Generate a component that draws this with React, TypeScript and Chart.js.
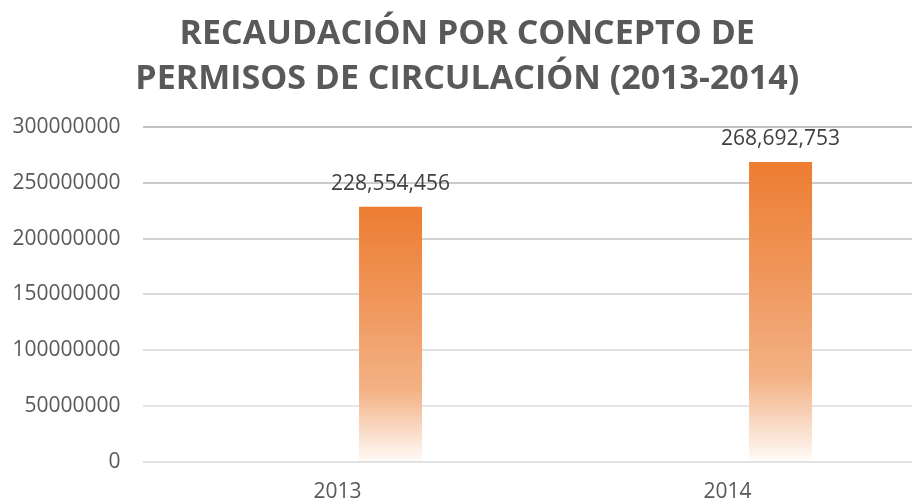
import React, { useEffect, useRef } from "react";
import { Chart, registerables } from "chart.js";

Chart.register(...registerables);

const TITLE_LINES = ["RECAUDACIÓN POR CONCEPTO DE", "PERMISOS DE CIRCULACIÓN (2013-2014)"];
const CATEGORIES = ["2013", "2014"];
const EMPTY_SERIES: (number | null)[] = [null, null];
const RECAUDACION = [228554456, 268692753];
const Y_MIN = 0;
const Y_MAX = 300000000;
const Y_STEP = 50000000;

const GRID_COLORS = ["#e2e2e2", "#e4e4e4", "#e0e0e0", "#dadada", "#d2d2d2", "#cacaca", "#c2c2c2"];

const fmt = (v: number) => v.toLocaleString("en-US");

const dataLabelPlugin = {
  id: "dataLabels",
  afterDatasetsDraw(chart: any) {
    const ctx = chart.ctx;
    const meta = chart.getDatasetMeta(1);
    ctx.save();
    ctx.font = '21px "Open Sans"';
    ctx.fillStyle = "#404040";
    ctx.textAlign = "center";
    ctx.textBaseline = "bottom";
    meta.data.forEach((bar: any, i: number) => {
      const v = chart.data.datasets[1].data[i];
      if (v == null) return;
      ctx.fillText(fmt(v as number), bar.x, bar.y - 12);
    });
    ctx.restore();
  },
};

export default function App() {
  const ref = useRef<HTMLCanvasElement | null>(null);

  useEffect(() => {
    document.body.style.margin = "0";
    const canvas = ref.current!;
    const chart = new Chart(canvas, {
      type: "bar",
      data: {
        labels: CATEGORIES,
        datasets: [
          { label: "", data: EMPTY_SERIES, backgroundColor: "transparent" },
          {
            label: "Recaudación",
            data: RECAUDACION,
            backgroundColor: (c: any) => {
              const chartRef = c.chart;
              const area = chartRef.chartArea;
              if (!area || c.dataIndex == null) return "#ED7D31";
              const ys = chartRef.scales.y;
              const v = RECAUDACION[c.dataIndex];
              const top = ys.getPixelForValue(v);
              const bottom = ys.getPixelForValue(0);
              const g = chartRef.ctx.createLinearGradient(0, top, 0, bottom);
              g.addColorStop(0, "rgb(237,125,49)");
              g.addColorStop(0.4, "rgb(240,152,94)");
              g.addColorStop(0.72, "rgb(243,178,133)");
              g.addColorStop(0.86, "rgb(248,214,191)");
              g.addColorStop(1, "rgb(255,251,248)");
              return g;
            },
            borderWidth: 0,
          },
        ],
      },
      options: {
        responsive: false,
        maintainAspectRatio: false,
        animation: false,
        layout: { padding: { left: 12, right: 21.5, top: 0, bottom: 1.5 } },
        datasets: {
          bar: { categoryPercentage: 0.544, barPercentage: 0.594 },
        },
        plugins: {
          legend: { display: false },
          tooltip: { enabled: false },
          title: {
            display: true,
            text: TITLE_LINES,
            color: "#595959",
            font: { family: '"Open Sans"', size: 34, weight: "bold", lineHeight: 1.32 },
            padding: { top: 12, bottom: 25.2 },
          },
        },
        scales: {
          x: {
            afterFit: (s: any) => {
              s.height = 40.5;
            },
            grid: { display: false, drawTicks: false },
            border: { display: false },
            ticks: {
              color: "#595959",
              font: { family: '"Open Sans"', size: 21, lineHeight: 1.0 },
              padding: 19.5,
            },
          },
          y: {
            min: Y_MIN,
            max: Y_MAX,
            afterFit: (s: any) => {
              s.width = 130.5;
            },
            grid: {
              drawTicks: false,
              lineWidth: 2,
              color: (c: any) => GRID_COLORS[c.index] ?? "#d9d9d9",
            },
            border: { display: false },
            ticks: {
              stepSize: Y_STEP,
              color: "#595959",
              font: { family: '"Open Sans"', size: 21 },
              padding: 22,
              callback: (v: any) => String(v),
            },
          },
        },
      },
      plugins: [dataLabelPlugin],
    });
    return () => chart.destroy();
  }, []);

  return (
    <div style={{ position: "absolute", left: 0, top: 0, width: 912, height: 504, overflow: "hidden", background: "#fff" }}>
      <canvas ref={ref} width={944} height={504} style={{ width: 944, height: 504, display: "block" }} />
    </div>
  );
}
